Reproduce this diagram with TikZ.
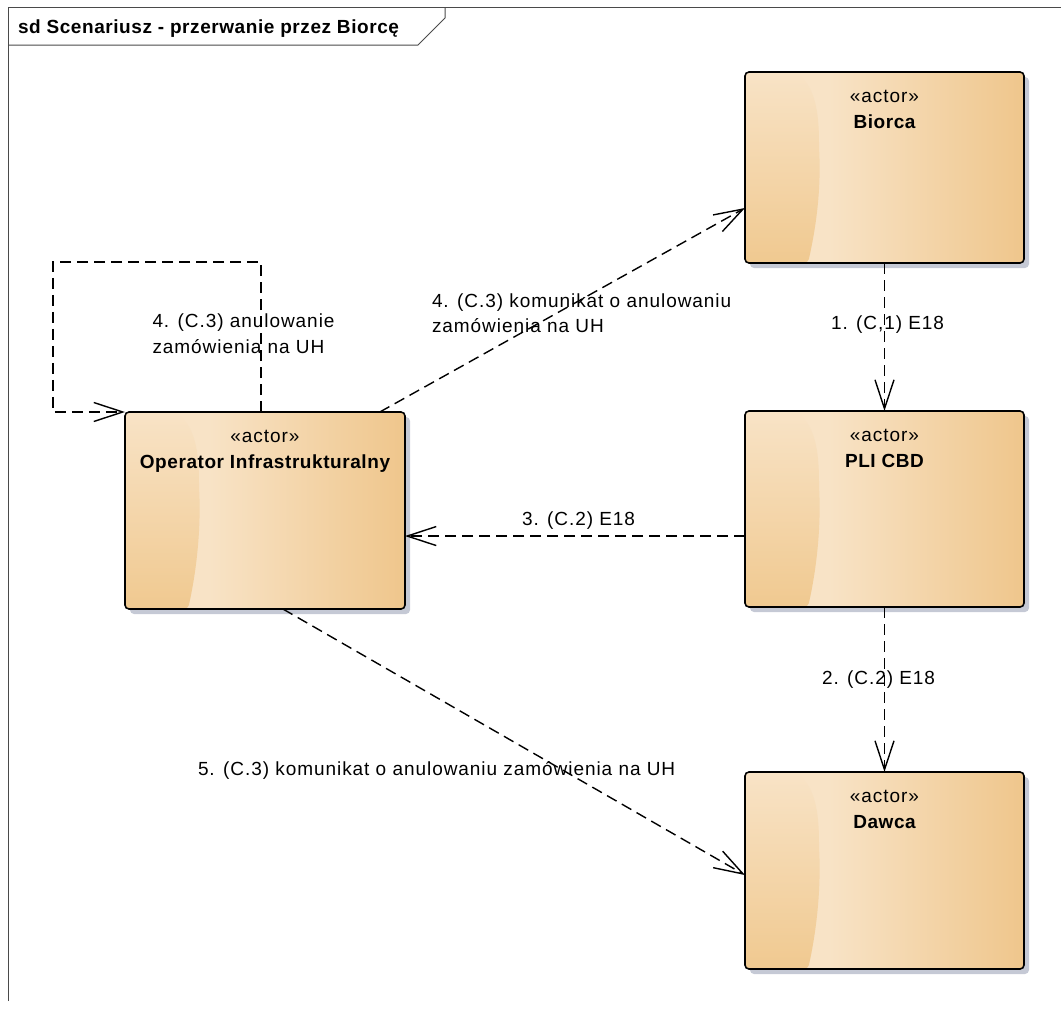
\documentclass[tikz,border=0pt]{standalone}
\usepackage{fontspec}
\setmainfont{Liberation Sans}[LetterSpace=5, BoldFeatures={LetterSpace=3}]
\usetikzlibrary{arrows.meta,shadows,calc}
\definecolor{boxL}{HTML}{F8E3C6}
\definecolor{boxR}{HTML}{EFC68C}
\definecolor{boxD}{HTML}{F0C990}
\definecolor{shadowc}{HTML}{C5C9D5}
\definecolor{framec}{HTML}{4A4A4A}
\pgfdeclarehorizontalshading{actorshade}{100bp}{color(0bp)=(boxL); color(25bp)=(boxL); color(40bp)=(boxL); color(75bp)=(boxR); color(100bp)=(boxR)}
\begin{document}
\begin{tikzpicture}[x=1pt,y=-1pt,
  txt/.style={font=\fontsize{19}{25}\selectfont, inner sep=0pt, outer sep=0pt, anchor=base west},
  ster/.style={font=\fontsize{19}{25}\selectfont, inner sep=0pt, outer sep=0pt, anchor=base},
  aname/.style={font=\bfseries\fontsize{19}{25}\selectfont, inner sep=0pt, outer sep=0pt, anchor=base},
  actorbox/.style={draw=black, line width=1.6pt, rounded corners=4pt, inner sep=0pt, outer sep=0pt,
    shading=actorshade,
    general shadow={fill=shadowc, shadow xshift=5pt, shadow yshift=-5pt},
    path picture={\path[draw=none, top color=boxL, bottom color=boxD]
      (path picture bounding box.north west) -- ($(path picture bounding box.north west)+(50pt,0pt)$)
      .. controls ($(path picture bounding box.north west)+(70pt,-15pt)$) and ($(path picture bounding box.north west)+(74pt,-40pt)$)
      .. ($(path picture bounding box.north west)+(74pt,-75pt)$)
      .. controls ($(path picture bounding box.north west)+(76pt,-115pt)$) and ($(path picture bounding box.south west)+(72pt,40pt)$)
      .. ($(path picture bounding box.south west)+(63pt,0pt)$) -- (path picture bounding box.south west) -- cycle;}},
  msg/.style={draw=black, line width=1.4pt, dash pattern=on 11pt off 6pt, -{Straight Barb[length=29pt,width=19pt]}}
]
\useasboundingbox (0,0) rectangle (1061,1009);
% frame
\draw[framec, line width=1pt] (8.5,1001) -- (8.5,7.5) -- (1061,7.5);
\draw[framec, line width=1pt] (8.5,45) -- (418,45) -- (445,18) -- (445,7.5);
\node[txt, font=\bfseries\fontsize{19}{25}\selectfont] (title) at (18,33) {sd Scenariusz - przerwanie przez Biorcę};
% actors
\node[actorbox, minimum width=279pt, minimum height=191pt] (bio) at (884.5,167.5) {};
\node[actorbox, minimum width=279pt, minimum height=196pt] (pli) at (884.5,509) {};
\node[actorbox, minimum width=280pt, minimum height=197pt] (op) at (265,510.5) {};
\node[actorbox, minimum width=279pt, minimum height=197pt] (daw) at (884.5,870.5) {};
\node[ster] (bioS) at ($(bio.north)+(0,30)$) {«actor»};
\node[aname] (bioN) at ($(bio.north)+(0,56)$) {Biorca};
\node[ster] (pliS) at ($(pli.north)+(0,30)$) {«actor»};
\node[aname] (pliN) at ($(pli.north)+(0,56)$) {PLI CBD};
\node[ster] (opS) at ($(op.north)+(0,30)$) {«actor»};
\node[aname] (opN) at ($(op.north)+(0,56)$) {Operator Infrastrukturalny};
\node[ster] (dawS) at ($(daw.north)+(0,30)$) {«actor»};
\node[aname] (dawN) at ($(daw.north)+(0,56)$) {Dawca};
% connectors
\coordinate (opTop) at ($(op.north west)!0.486!(op.north east)$);
\coordinate (loopC) at (53,262);
\draw[msg] (opTop) |- (loopC) |- (op.north west);
\draw[msg] ($(op.north west)!0.91!(op.north east)$) -- ($(bio.north west)!0.712!(bio.south west)$);
\draw[msg] (bio.south) -- (pli.north);
\coordinate (pliW) at ($(pli.north west)!0.638!(pli.south west)$);
\draw[msg] (pliW) -- (op.east |- pliW);
\draw[msg] (pli.south) -- (daw.north);
\draw[msg] ($(op.south west)!0.564!(op.south east)$) -- ($(daw.north west)!0.523!(daw.south west)$);
% labels
\node[txt] (l1) at (831,329) {1. (C,1) E18};
\node[txt] (l2) at (822,684) {2. (C.2) E18};
\node[txt] (l3) at (522,525) {3. (C.2) E18};
\node[txt] (l4a) at (152.5,327.5) {4. (C.3) anulowanie};
\node[txt] (l4b) at (152.5,353) {zamówienia na UH};
\node[txt] (l4c) at (432,307) {4. (C.3) komunikat o anulowaniu};
\node[txt] (l4d) at (432,332) {zamówienia na UH};
\node[txt] (l5) at (198,775) {5. (C.3) komunikat o anulowaniu zamówienia na UH};
\end{tikzpicture}
\end{document}
